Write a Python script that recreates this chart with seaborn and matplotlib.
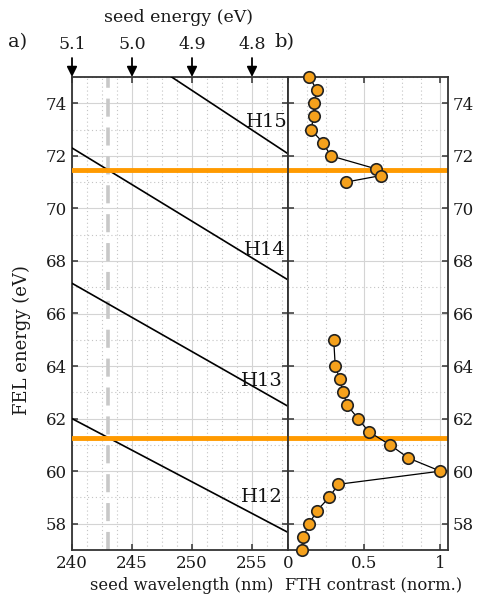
import matplotlib
matplotlib.use("Agg")
import matplotlib.pyplot as plt
from matplotlib.ticker import MultipleLocator
import seaborn as sns
import pandas as pd

# ---------------- data ----------------
harmonics = ["H12", "H13", "H14", "H15"]
wl_ends = [240, 258]                      # seed wavelength (nm) at line ends
h_energy_start = [62.0, 67.15, 72.3, 77.5]  # FEL energy at 240 nm
h_energy_end = [57.67, 62.47, 67.28, 72.08]  # FEL energy at 258 nm
h_label_x = [255.8, 255.8, 256.1, 256.2]
h_label_y = [59.0, 63.45, 68.4, 73.3]

seed_wl_mark = 243.0
orange_levels = [61.25, 71.45]

arrow_wl = [240, 245, 250, 255]
arrow_labels = ["5.1", "5.0", "4.9", "4.8"]

upper_E = [75.0, 74.5, 74.0, 73.5, 73.0, 72.5, 72.0, 71.5, 71.25, 71.0]
upper_C = [0.14, 0.19, 0.17, 0.17, 0.15, 0.23, 0.28, 0.58, 0.61, 0.38]
lower_E = [65.0, 64.0, 63.5, 63.0, 62.5, 62.0, 61.5, 61.0, 60.5, 60.0,
           59.5, 59.0, 58.5, 58.0, 57.5, 57.0]
lower_C = [0.30, 0.31, 0.34, 0.36, 0.39, 0.46, 0.53, 0.67, 0.79, 1.00,
           0.33, 0.27, 0.19, 0.14, 0.10, 0.09]

# ---------------- style ----------------
sns.set_style("white")
plt.rcParams["font.family"] = ["DejaVu Serif"]
plt.rcParams["font.size"] = 12
plt.rcParams["axes.linewidth"] = 1.3
plt.rcParams["axes.edgecolor"] = "#333333"

ORANGE = "#FF9A00"
MFACE = "#F5A11C"
TXT = "#1a1a1a"

W, H = 478, 603
fig = plt.figure(figsize=(W / 100, H / 100), dpi=100)
axL = fig.add_axes([72 / W, 1 - 550 / H, 216 / W, 473 / H])
axR = fig.add_axes([288 / W, 1 - 550 / H, 160 / W, 473 / H])

def style_axis(ax):
    ax.set_ylim(57, 75)
    ax.yaxis.set_major_locator(MultipleLocator(2))
    ax.yaxis.set_minor_locator(MultipleLocator(1))
    ax.grid(which="major", color="#d4d4d4", lw=0.8, ls="-")
    ax.grid(which="minor", color="#c4c4c4", lw=0.8, ls=(0, (1, 2.5)))
    ax.set_axisbelow(True)
    ax.tick_params(which="major", direction="in", length=4.5, width=1.1,
                   top=True, right=True, bottom=True, left=True,
                   colors="#333333", labelcolor=TXT, labelsize=12)
    ax.tick_params(which="minor", length=0)

# ---------------- left panel ----------------
rows = []
for name, e0, e1 in zip(harmonics, h_energy_start, h_energy_end):
    rows.append({"h": name, "wl": wl_ends[0], "E": e0})
    rows.append({"h": name, "wl": wl_ends[1], "E": e1})
dfh = pd.DataFrame(rows)
sns.lineplot(data=dfh, x="wl", y="E", units="h", estimator=None,
             color="black", lw=1.2, ax=axL, legend=False, zorder=3)
axL.axvline(seed_wl_mark, color="#c8c8c8", lw=2.6, ls=(0, (5, 3)), zorder=2)
for lv in orange_levels:
    axL.axhline(lv, color=ORANGE, lw=3.5, zorder=4)
for name, x, y in zip(harmonics, h_label_x, h_label_y):
    axL.text(x, y, name, ha="center", va="center", fontsize=14,
             color="#111111", zorder=5)

axL.set_xlim(240, 258)
axL.set_xticks([240, 245, 250, 255])
axL.xaxis.set_minor_locator(MultipleLocator(1.25))
style_axis(axL)
axL.tick_params(labelright=False)
axL.set_xlabel("")
axL.set_ylabel("")

for x, lbl in zip(arrow_wl, arrow_labels):
    axL.annotate(lbl, xy=(x, 1.0), xycoords=("data", "axes fraction"),
                 xytext=(x, 1.05), textcoords=("data", "axes fraction"),
                 ha="center", va="bottom", fontsize=12.5, color=TXT,
                 arrowprops=dict(arrowstyle="-|>", color="black", lw=1.3,
                                 mutation_scale=15, shrinkA=1, shrinkB=0),
                 annotation_clip=False)

# ---------------- right panel ----------------
sns.lineplot(x=upper_C, y=upper_E, sort=False, estimator=None, color="black",
             lw=0.9, ax=axR, zorder=3)
sns.lineplot(x=lower_C, y=lower_E, sort=False, estimator=None, color="black",
             lw=0.9, ax=axR, zorder=3)
for lv in orange_levels:
    axR.axhline(lv, color=ORANGE, lw=3.5, zorder=2.5)
sns.scatterplot(x=upper_C + lower_C, y=upper_E + lower_E, color=MFACE,
                edgecolor="#222222", linewidth=1.2, s=68, ax=axR, zorder=6,
                clip_on=False)
axR.set_xlim(0, 1.05)
axR.set_xticks([0, 0.5, 1])
axR.set_xticklabels(["0", "0.5", "1"])
axR.xaxis.set_minor_locator(MultipleLocator(0.125))
style_axis(axR)
axR.tick_params(labelleft=False, labelright=True)
axR.set_xlabel("")
axR.set_ylabel("")
for c in axR.collections:
    c.set_clip_on(False)

# ---------------- texts ----------------
fig.text(182 / W, 1 - 586 / H, "seed wavelength (nm)", ha="center",
         va="center", fontsize=11.8, color=TXT)
fig.text(374 / W, 1 - 586 / H, "FTH contrast (norm.)", ha="center",
         va="center", fontsize=11.8, color=TXT)
fig.text(22 / W, 1 - 340 / H, "FEL energy (eV)", rotation=90, ha="center",
         va="center", fontsize=13, color=TXT)
fig.text(178 / W, 1 - 18 / H, "seed energy (eV)", ha="center",
         va="center", fontsize=12.5, color=TXT)
fig.text(18 / W, 1 - 42 / H, "a)", ha="center", va="center", fontsize=14,
         color=TXT)
fig.text(284 / W, 1 - 42 / H, "b)", ha="center", va="center", fontsize=14,
         color=TXT)

fig.savefig("out.png", dpi=100)
